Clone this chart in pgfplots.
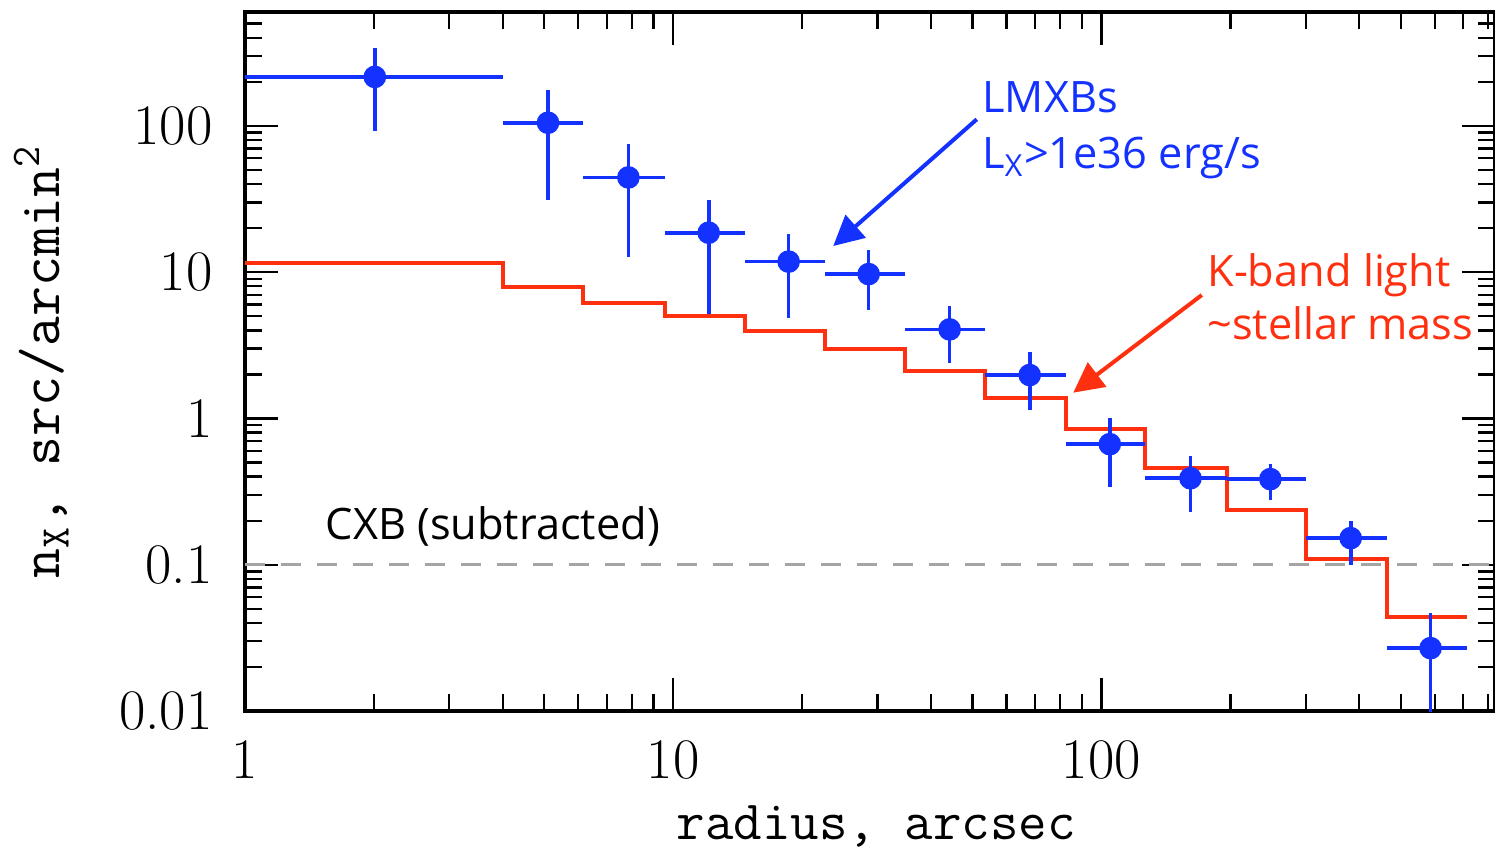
\documentclass[border=0pt]{standalone}
\usepackage{pgfplots}
\pgfplotsset{compat=1.18}
\usepackage{pgfplotstable}
\usetikzlibrary{arrows.meta}
\usepackage{fontspec}
\newfontfamily\annot{Open Sans}
\definecolor{myblue}{RGB}{20,50,255}
\definecolor{myred}{RGB}{255,48,16}
\definecolor{cxbgray}{RGB}{165,165,165}

\pgfplotstableread{
x     y       xm    xp    ym      yp
2.01  216     1.1   1.99  124     125
5.1   105     1.1   1.07  74      72
7.86  44.4    1.69  1.69  31.7    30.6
12.1  18.6    2.55  2.6   13.4    12.4
18.6  11.8    3.9   4.0   6.94    6.3
28.6  9.7     6.0   6.2   4.2     4.4
44.2  4.06    9.4   9.4   1.68    1.8
68    1.98    14.4  14.6  0.83    0.85
104.6 0.667   22.0  22.1  0.327   0.333
161.4 0.39    34.7  35.3  0.16    0.163
248   0.385   51.3  53    0.109   0.104
382   0.152   81    83    0.052   0.048
587   0.0269  122   126   0.0229  0.0197
}\lmxb

\pgfplotstableread{
x     y
0.9   11.5
4.0   7.86
6.17  6.17
9.55  5.03
14.7  3.95
22.6  2.96
34.8  2.11
53.6  1.37
82.6  0.841
126.7 0.46
196.7 0.236
301   0.110
465   0.0437
713   0.0437
}\kband

\begin{document}
\begin{tikzpicture}
\useasboundingbox (-73.5pt,-41.7pt) rectangle (375pt,213.3pt);
\begin{axis}[
  at={(0,0)}, anchor=south west,
  scale only axis, width=375pt, height=209.7pt,
  xmode=log, ymode=log,
  xmin=1, xmax=830, ymin=0.01, ymax=600,
  axis line style={line width=1.1pt},
  tick align=inside,
  major tick length=10pt, minor tick length=5.2pt,
  every tick/.style={black, line width=0.7pt},
  xtick={1,10,100}, xticklabels={1,10,100},
  ytick={0.01,0.1,1,10,100}, yticklabels={0.01,0.1,1,10,100},
  minor xtick={2,3,4,5,6,7,8,9,20,30,40,50,60,70,80,90,200,300,400,500,600,700,800},
  minor ytick={0.02,0.03,0.04,0.05,0.06,0.07,0.08,0.09,0.2,0.3,0.4,0.5,0.6,0.7,0.8,0.9,2,3,4,5,6,7,8,9,20,30,40,50,60,70,80,90,200,300,400,500,600},
  xticklabel style={font=\fontsize{17.2}{18}\selectfont, inner sep=0pt, anchor=north, yshift=-8.7pt},
  yticklabel style={font=\fontsize{17.2}{18}\selectfont, inner sep=0pt, anchor=east, xshift=-9.6pt},
  xlabel={radius, arcsec},
  ylabel={n\textsubscript{X}, src/arcmin\textsuperscript{2}},
  xlabel style={font=\ttfamily\fontsize{16.6}{18}\selectfont, at={(axis description cs:0.505,0)}, anchor=base, yshift=-38.4pt, inner sep=0pt},
  ylabel style={font=\ttfamily\fontsize{17.4}{19}\selectfont, at={(axis description cs:0,0.5)}, anchor=base, yshift=55.5pt, inner sep=0pt},
]
\addplot[cxbgray, dash pattern=on 6pt off 4.8pt, line width=0.9pt] coordinates {(1,0.1) (830,0.1)};
\addplot[myred, line width=1.2pt, const plot] table[x=x, y=y] {\kband};
\addplot[myblue, only marks, mark=*, mark size=3.2pt,
  error bars/.cd, x dir=both, x explicit, y dir=both, y explicit, error mark=none,
  error bar style={line width=1.1pt, myblue}]
  table[x=x, y=y, x error plus=xp, x error minus=xm, y error plus=yp, y error minus=ym] {\lmxb};

\node[anchor=base west, inner sep=0pt, text=myblue, font=\annot\fontsize{13}{15}\selectfont] at (rel axis cs:0.5894,0.8559) {LMXBs};
\node[anchor=base west, inner sep=0pt, text=myblue, font=\annot\fontsize{13}{15}\selectfont] at (rel axis cs:0.5894,0.7764) {L\textsubscript{X}>1e36 erg/s};
\node[anchor=base west, inner sep=0pt, text=myred, font=\annot\fontsize{13}{15}\selectfont] at (rel axis cs:0.7694,0.607) {K-band light};
\node[anchor=base west, inner sep=0pt, text=myred, font=\annot\fontsize{13}{15}\selectfont] at (rel axis cs:0.7694,0.5308) {\char`\~stellar mass};
\node[anchor=base west, inner sep=0pt, text=black, font=\annot\fontsize{13}{15}\selectfont] at (rel axis cs:0.064,0.2456) {CXB (subtracted)};
\draw[myblue, line width=1.2pt, -{Triangle[length=9pt,width=9pt]}] (rel axis cs:0.5854,0.8465) -- (rel axis cs:0.4706,0.6652);
\draw[myred, line width=1.2pt, -{Triangle[length=9pt,width=9pt]}] (rel axis cs:0.7654,0.5951) -- (rel axis cs:0.6626,0.4554);
\end{axis}
\end{tikzpicture}
\end{document}
